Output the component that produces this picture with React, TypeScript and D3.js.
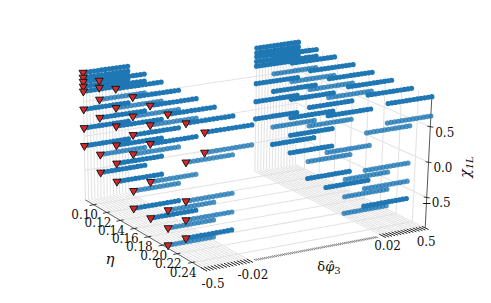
import React from "react";
import * as d3 from "d3";

const width = 491;
const height = 303;

// eta columns, and the chi levels present in each column
const etaValues = [0.0875, 0.1115, 0.1355, 0.1595, 0.1835, 0.2075, 0.2315, 0.2555];
const chiByEta = [
  [0.92, 0.85, 0.79, 0.72, 0.65, 0.39, 0.12, -0.14],
  [0.92, 0.82, 0.65, 0.39, -0.14, -0.4],
  [0.92, 0.65, 0.39, 0.12, -0.14, -0.4],
  [0.92, 0.65, 0.39, 0.12, -0.4, -0.65],
  [0.92, 0.65, 0.39, -0.14, -0.65],
  [0.92, -0.4, -0.65, -0.89],
  [0.92, 0.39, -0.14, -0.4, -0.65],
  [0.92, 0.65],
];
// rows drawn in the paler blue
const paleByEta = [
  [],
  [0.65, -0.14],
  [0.65],
  [0.65, 0.12, -0.4],
  [0.65, -0.14],
  [-0.4, -0.65, -0.89],
  [0.39, -0.14, -0.4],
  [0.65],
];
const deltaMagnitudes = [0.02, 0.0262, 0.0342, 0.0447, 0.0585, 0.0765, 0.1, 0.131, 0.171, 0.224, 0.293, 0.382, 0.5];

const etaTicks = [0.1, 0.12, 0.14, 0.16, 0.18, 0.2, 0.22, 0.24];
const chiTicks = [-0.5, 0, 0.5];
const chiTickLabels = ["\u22120.5", "0.0", "0.5"];
const deltaLogTicks = [0.02, 0.0252, 0.0317, 0.0398, 0.0501, 0.0631, 0.0794, 0.1, 0.126, 0.158, 0.199, 0.251, 0.315, 0.397, 0.5];
const deltaTickLabels = [
  { v: -0.5, t: "-0.5", dx: 9, dy: 19 },
  { v: -0.02, t: "-0.02", dx: 3, dy: 18 },
  { v: 0.02, t: "0.02", dx: 5, dy: 14 },
  { v: 0.5, t: "0.5", dx: 1, dy: 18 },
];

// camera, in the style of mplot3d, plus a small fan for the verticals
const theta = (30 * Math.PI) / 180;
const elev = (16.5 * Math.PI) / 180;
const dist = 12;
const hw = 0.5714;
const hz = 0.31;
const zoom = 2630;
const cx = 252.5;
const cy = 149;
const fan = 0.006;
const fanX = 85;

// symlog axis: linear inside +-0.02, log outside
const midShare = 0.6;
const xLinear = d3.scaleLinear().domain([-0.02, 0.02]).range([-midShare * hw, midShare * hw]);
const xLog = d3.scaleLog().domain([0.02, 0.5]).range([midShare * hw, hw]);
const xScale = (v: number) =>
  Math.abs(v) <= 0.02 ? xLinear(v) : Math.sign(v) * xLog(Math.abs(v));
const yScale = d3.scaleLinear().domain([0.0875, 0.2555]).range([hw, -hw]);
const zScale = d3.scaleLinear().domain([-0.935, 0.935]).range([-hz, hz]);

function camera(a: number, b: number, c: number) {
  const s = Math.sin(theta);
  const k = Math.cos(theta);
  const along = s * a + k * b;
  const r = k * a - s * b;
  const up = along * Math.sin(elev) + c * Math.cos(elev);
  const n = -along * Math.cos(elev) + c * Math.sin(elev);
  const d = dist - n;
  const x = cx + (zoom * r) / d;
  return { x: x + (x - fanX) * fan * (1 + c / hz), y: cy - (zoom * up) / d, d };
}

const xMin = -0.5, xMax = 0.5, yFront = 0.2555, yBack = 0.0875, zMin = -0.935, zMax = 0.935;
const pt = (dp: number, eta: number, chi: number) => camera(xScale(dp), yScale(eta), zScale(chi));

const line = d3.line<{ x: number; y: number }>().x((d) => d.x).y((d) => d.y);
const seg = (p: [number, number, number], q: [number, number, number]) =>
  line([pt(...p), pt(...q)]) as string;

const gridDeltas = deltaLogTicks.flatMap((v) => [-v, v]);
const midTicks = d3.range(-0.0185, 0.0186, 0.0006);

const grid: string[] = [
  ...etaTicks.flatMap((e) => [
    seg([xMin, e, zMin], [xMax, e, zMin]),
    seg([xMax, e, zMin], [xMax, e, zMax]),
  ]),
  ...gridDeltas.flatMap((v) => [
    seg([v, yFront, zMin], [v, yBack, zMin]),
    seg([v, yBack, zMin], [v, yBack, zMax]),
  ]),
  ...chiTicks.flatMap((c) => [
    seg([xMin, yBack, c], [xMax, yBack, c]),
    seg([xMax, yBack, c], [xMax, yFront, c]),
  ]),
];

const dots = etaValues
  .flatMap((eta, i) =>
    chiByEta[i].flatMap((chi) =>
      deltaMagnitudes.flatMap((m) =>
        [-m, m].map((dp) => ({
          ...pt(dp, eta, chi),
          pale: paleByEta[i].includes(chi),
        }))
      )
    )
  )
  .sort((p, q) => d3.descending(p.d, q.d));

const triangles = etaValues.flatMap((eta, i) => chiByEta[i].map((chi) => pt(xMin, eta, chi)));
const trianglePath = d3.symbol().type(d3.symbolTriangle).size(28)() as string;

const serif = "'DejaVu Serif', serif";

export default function App() {
  return (
    <svg
      width={width}
      height={height}
      style={{ position: "absolute", left: 0, top: 0, background: "#fff" }}
      fontFamily={serif}
      fontSize={12}
      fill="#111"
    >
      <g stroke="#e4e4e4" strokeWidth={1.1} fill="none">
        {grid.map((d, i) => (
          <path key={i} d={d} />
        ))}
      </g>

      {/* eta axis */}
      <path d={seg([xMin, yBack, zMin], [xMin, yFront, zMin])} stroke="#444" strokeWidth={0.8} fill="none" />
      {etaTicks.map((e) => {
        const p = pt(xMin, e, zMin);
        return (
          <g key={e}>
            <path d={line([{ x: p.x - 4, y: p.y + 0.8 }, { x: p.x + 3, y: p.y - 0.6 }]) as string} stroke="#222" strokeWidth={0.9} fill="none" />
            <text x={p.x - 9} y={p.y + 14.5} textAnchor="middle">
              {e.toFixed(2)}
            </text>
          </g>
        );
      })}
      <text x={110} y={264} textAnchor="middle" fontSize={15} fontStyle="italic">
        η
      </text>

      {/* delta phi axis, ticks so dense they read as hatching */}
      <g stroke="#222" fill="none">
        {gridDeltas.map((v) => (
          <path key={v} d={seg([v, yFront - 0.004, zMin], [v, yFront + 0.004, zMin])} strokeWidth={1} />
        ))}
        {midTicks.map((v) => (
          <path key={v} d={seg([v, yFront - 0.0015, zMin], [v, yFront + 0.002, zMin])} strokeWidth={0.6} />
        ))}
      </g>
      {deltaTickLabels.map((l) => {
        const p = pt(l.v, yFront, zMin);
        return (
          <text key={l.t} x={p.x + l.dx} y={p.y + l.dy} textAnchor="middle">
            {l.t}
          </text>
        );
      })}
      <text x={329} y={271} textAnchor="middle" fontSize={13}>
        δ<tspan fontStyle="italic">φ̂</tspan>
        <tspan fontSize={10} dy={3}>3</tspan>
      </text>

      {/* chi axis */}
      <path d={seg([xMax, yFront, zMin], [xMax, yFront, zMax])} stroke="#444" strokeWidth={0.9} fill="none" />
      {chiTicks.map((c, i) => {
        const p = pt(xMax, yFront, c);
        return (
          <g key={c}>
            <path d={line([{ x: p.x - 3, y: p.y - 0.5 }, { x: p.x + 3, y: p.y + 0.5 }]) as string} stroke="#222" strokeWidth={0.9} fill="none" />
            <text x={p.x + 24} y={p.y + 10} textAnchor="end">
              {chiTickLabels[i]}
            </text>
          </g>
        );
      })}
      <text transform="translate(470,167) rotate(-90)" textAnchor="middle" fontSize={14} fontStyle="italic">
        χ<tspan fontSize={10} dy={3}>1L</tspan>
      </text>

      {/* scatter, far points first */}
      {dots.map((p, i) => (
        <circle key={i} cx={p.x} cy={p.y} r={2.6} fill="#1f77b4" fillOpacity={p.pale ? 0.8 : 1} />
      ))}
      {triangles.map((p, i) => (
        <path
          key={i}
          d={trianglePath}
          transform={`translate(${p.x},${p.y}) rotate(180)`}
          fill="#d62728"
          stroke="#111"
          strokeWidth={0.9}
        />
      ))}
    </svg>
  );
}
